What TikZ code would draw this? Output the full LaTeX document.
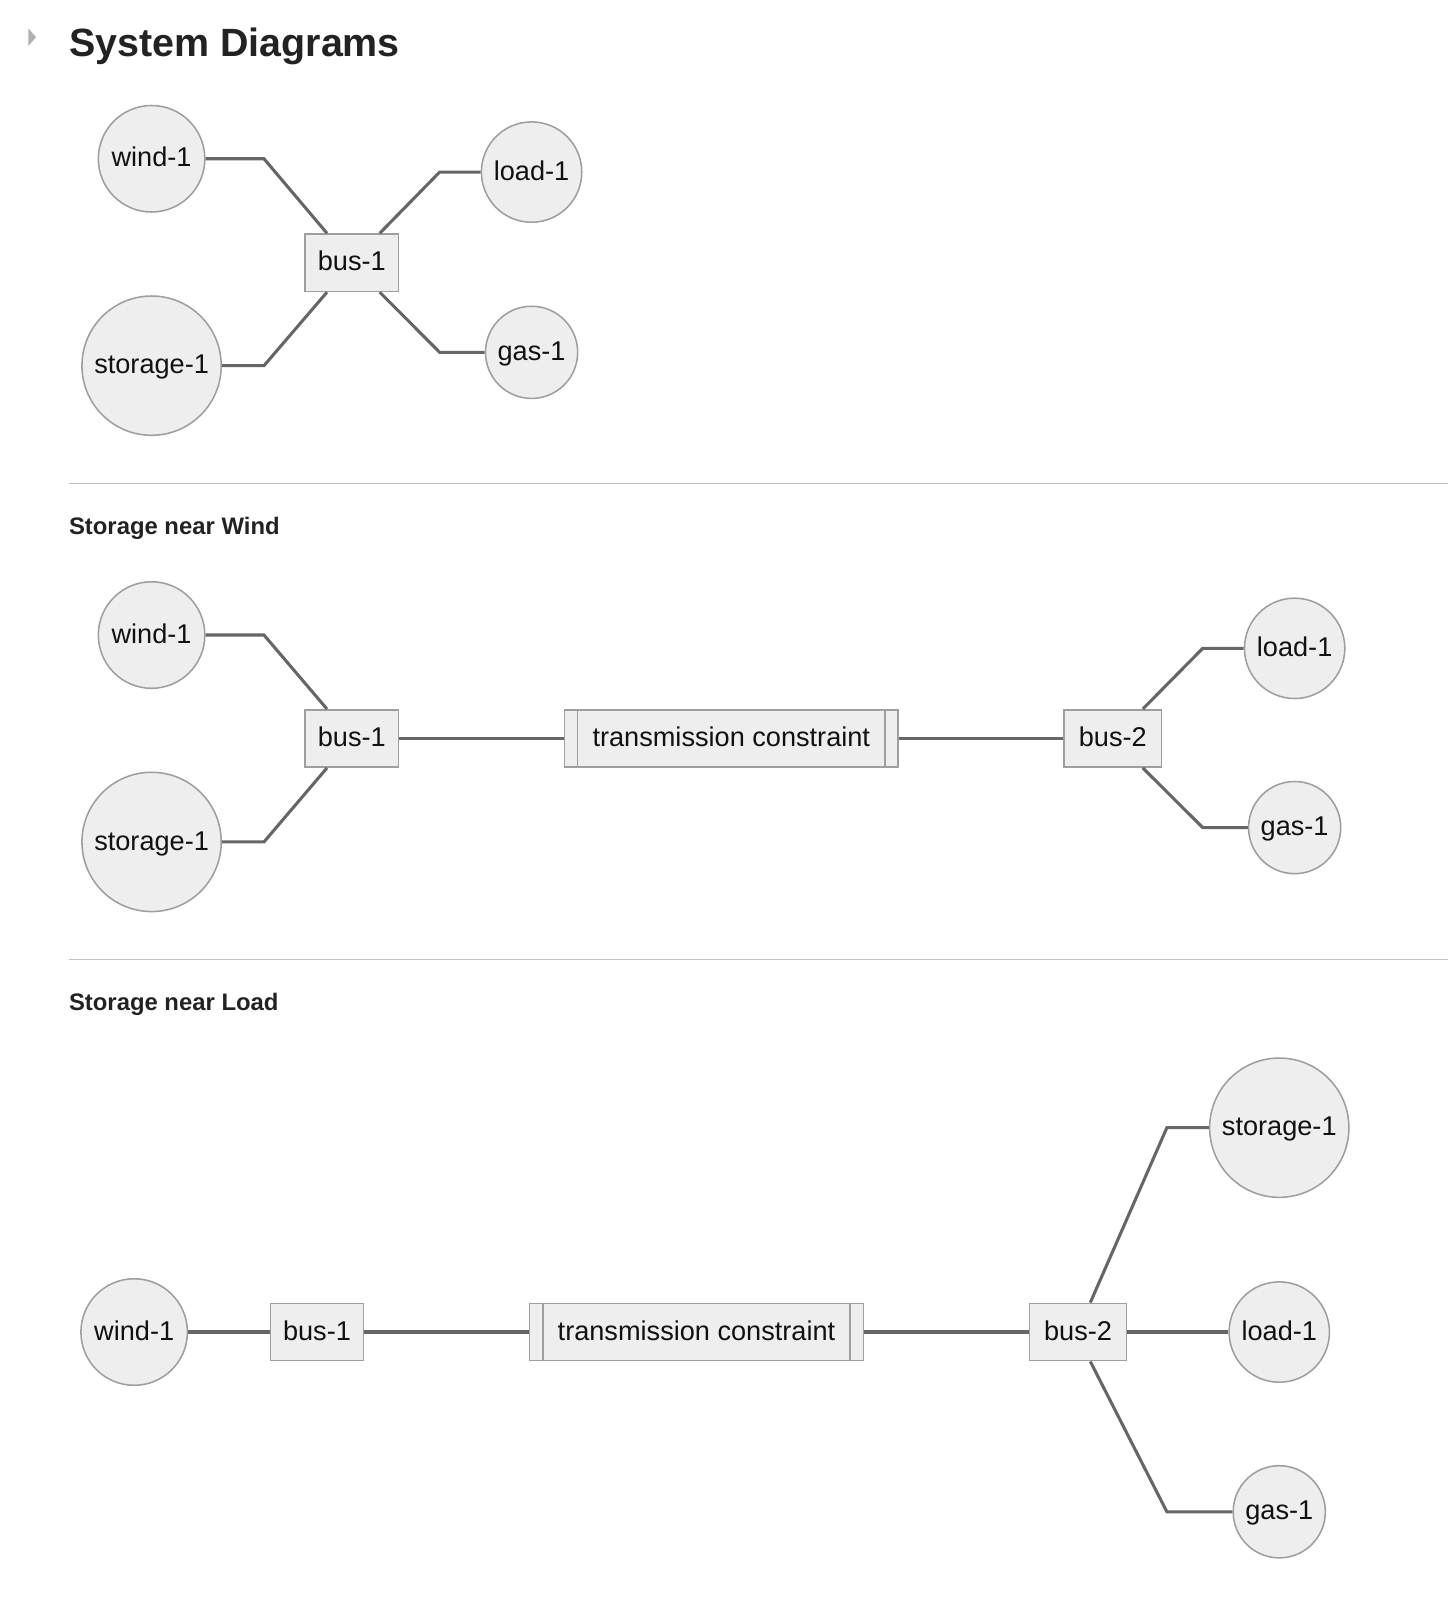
\documentclass[tikz,border=0pt]{standalone}
\usepackage{fontspec}
\setmainfont{Liberation Sans}
\usetikzlibrary{calc}
\definecolor{nodefill}{HTML}{EEEEEE}
\definecolor{nodedraw}{HTML}{9E9E9E}
\definecolor{edgecol}{HTML}{666666}
\definecolor{rulecol}{HTML}{C4C4C4}
\definecolor{headcol}{HTML}{222222}
\definecolor{labelcol}{HTML}{111111}
\definecolor{tricol}{HTML}{B0B0B0}
\begin{document}
\begin{tikzpicture}[x=0.5pt,y=-0.5pt,
  lbl/.style={font=\fontsize{13.25}{15}\selectfont, text=labelcol, text height=0.8em, text depth=0pt},
  gen/.style={lbl,circle,fill=nodefill,draw=nodedraw,line width=0.75pt,inner sep=0pt,minimum size=#1},
  busbox/.style={lbl,rectangle,fill=nodefill,draw=nodedraw,line width=0.75pt,inner sep=0pt,minimum width=#1,minimum height=28pt},
  tcbox/.style={busbox=163pt,
    path picture={
      \draw[nodedraw,line width=0.75pt] ([xshift=6.5pt]path picture bounding box.north west) -- ([xshift=6.5pt]path picture bounding box.south west);
      \draw[nodedraw,line width=0.75pt] ([xshift=-6.5pt]path picture bounding box.north east) -- ([xshift=-6.5pt]path picture bounding box.south east);
    }},
  wire/.style={draw=edgecol,line width=1.5pt},
  rulestyle/.style={draw=rulecol,line width=0.75pt},
  titlestyle/.style={anchor=base west,inner sep=0pt,text=headcol,font=\fontsize{19.25}{22}\selectfont\bfseries},
  headstyle/.style={anchor=base west,inner sep=0pt,text=headcol,font=\fontsize{11.65}{14}\selectfont\bfseries}
]
\useasboundingbox (0,0) rectangle (1414,1568);

% header
\fill[tricol] (27.7,27.7) -- (35.2,36.3) -- (27.7,44.9) -- cycle;
\node[titlestyle] (title) at (67,55) {System Diagrams};

% ---------- Diagram 1 ----------
\node[gen=52pt] (aw) at (148,155) {wind-1};
\node[gen=49pt] (al) at (519,168) {load-1};
\node[busbox=45.5pt] (ab) at (343.5,256.5) {bus-1};
\node[gen=68pt] (as) at (148,357) {storage-1};
\node[gen=45pt] (ag) at (519,344) {gas-1};
\draw[wire] (aw.east) -- ++(57,0) -- ($(ab.north west)+(22,0)$);
\draw[wire] (al.west) -- ++(-40,0) -- ($(ab.north east)+(-19,0)$);
\draw[wire] (as.east) -- ++(41,0) -- ($(ab.south west)+(22,0)$);
\draw[wire] (ag.west) -- ++(-44,0) -- ($(ab.south east)+(-19,0)$);

\draw[rulestyle] (67,472) -- (1414,472);
\node[headstyle] (hwind) at (67,522) {Storage near Wind};

% ---------- Diagram 2 ----------
\node[gen=52pt] (bw) at (148,620) {wind-1};
\node[gen=68pt] (bs) at (148,822) {storage-1};
\node[busbox=45.5pt] (bb1) at (343.5,721) {bus-1};
\node[tcbox] (btc) at (714,721) {transmission constraint};
\node[busbox=47.5pt] (bb2) at (1086.5,721) {bus-2};
\node[gen=49pt] (bl) at (1264,633) {load-1};
\node[gen=45pt] (bg) at (1264,808) {gas-1};
\draw[wire] (bw.east) -- ++(57,0) -- ($(bb1.north west)+(22,0)$);
\draw[wire] (bs.east) -- ++(41,0) -- ($(bb1.south west)+(22,0)$);
\draw[wire] (bb1.east) -- ++(129,0) -- (btc.west);
\draw[wire] (btc.east) -- ++(33,0) -- (bb2.west);
\draw[wire] (bl.west) -- ++(-40,0) -- ($(bb2.north east)+(-19,0)$);
\draw[wire] (bg.west) -- ++(-44,0) -- ($(bb2.south east)+(-19,0)$);

\draw[rulestyle] (67,937) -- (1414,937);
\node[headstyle] (hload) at (67,987) {Storage near Load};

% ---------- Diagram 3 ----------
\node[gen=52pt] (cw) at (131,1300.5) {wind-1};
\node[busbox=45.5pt] (cb1) at (309.5,1300.5) {bus-1};
\node[tcbox] (ctc) at (680,1300.5) {transmission constraint};
\node[busbox=47.5pt] (cb2) at (1052.5,1300.5) {bus-2};
\node[gen=68pt] (cs) at (1249,1101) {storage-1};
\node[gen=49pt] (cl) at (1249,1300.5) {load-1};
\node[gen=45pt] (cg) at (1249,1476) {gas-1};
\draw[wire] (cw.east) -- (cb1.west);
\draw[wire] (cb1.east) -- ++(129,0) -- (ctc.west);
\draw[wire] (ctc.east) -- ++(33,0) -- (cb2.west);
\draw[wire] (cs.west) -- ++(-41,0) -- ($(cb2.north)+(12,0)$);
\draw[wire] (cb2.east) -- (cl.west);
\draw[wire] (cg.west) -- ++(-64,0) -- ($(cb2.south)+(12,0)$);
\end{tikzpicture}
\end{document}
